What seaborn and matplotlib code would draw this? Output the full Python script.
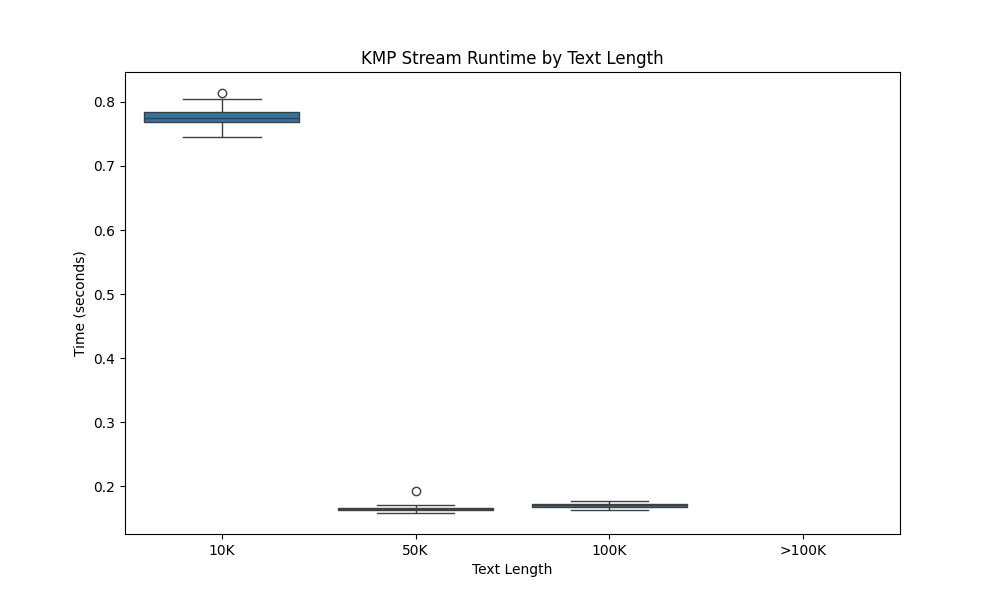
import pandas as pd
import seaborn as sns
from matplotlib import pyplot as plt

# runtimes (seconds)
LABELS = ['10K', '50K', '100K', '>100K']
times_10k = [0.745, 0.760, 0.767, 0.768, 0.770, 0.775, 0.775, 0.778, 0.783,
             0.784, 0.795, 0.805, 0.814]
times_50k = [0.158, 0.160, 0.162, 0.162, 0.163, 0.164, 0.165, 0.166, 0.166,
             0.168, 0.170, 0.192]
times_100k = [0.163, 0.166, 0.168, 0.168, 0.169, 0.170, 0.171, 0.172, 0.172,
              0.174, 0.177]

rows = ([('10K', t) for t in times_10k] + [('50K', t) for t in times_50k]
        + [('100K', t) for t in times_100k])
df = pd.DataFrame(rows, columns=['Text Length', 'Time'])

fig, ax = plt.subplots(figsize=(10, 6), dpi=100)
sns.boxplot(data=df, x='Text Length', y='Time', order=LABELS, ax=ax)
ax.set_title('KMP Stream Runtime by Text Length')
ax.set_xlabel('Text Length')
ax.set_ylabel('Time (seconds)')
plt.savefig('out.png')
